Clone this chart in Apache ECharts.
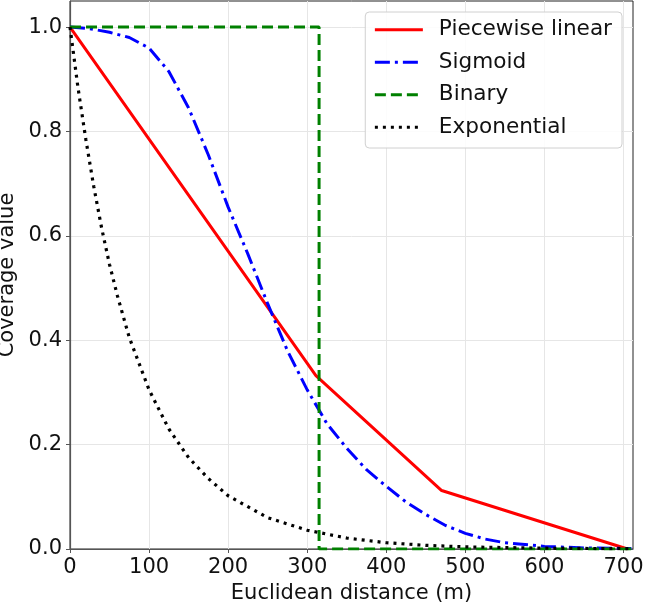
<!DOCTYPE html>
<html>
<head>
<meta charset="utf-8">
<script src="https://cdn.jsdelivr.net/npm/echarts@6/dist/echarts.min.js"></script>
<style>html,body{margin:0;padding:0;background:#fff}#c{width:646px;height:604px}</style>
</head>
<body>
<div id="c"></div>
<script>
// Data
var linearX = [0, 311, 470, 705];
var linearY = [1.0, 0.332, 0.112, 0.0];

var sigmoidX = [0, 25, 50, 75, 100, 125, 150, 175, 200, 225, 250, 275, 300, 325, 350, 375, 400, 425, 450, 475, 500, 525, 550, 600, 650, 710];
var sigmoidY = [1.0, 0.997, 0.99, 0.98, 0.96, 0.915, 0.845, 0.755, 0.655, 0.565, 0.47, 0.38, 0.305, 0.24, 0.193, 0.152, 0.12, 0.09, 0.066, 0.045, 0.03, 0.019, 0.012, 0.005, 0.002, 0.001];

var binaryX = [0, 315, 315, 710];
var binaryY = [1.0, 1.0, 0.0, 0.0];

var expX = [0, 10, 20, 30, 40, 50, 60, 75, 100, 125, 150, 175, 200, 250, 300, 350, 400, 450, 500, 600, 710];
var expY = [1.0, 0.885, 0.785, 0.695, 0.615, 0.545, 0.485, 0.405, 0.305, 0.23, 0.175, 0.135, 0.102, 0.06, 0.036, 0.021, 0.012, 0.007, 0.004, 0.0015, 0.0005];

var xTicks = [0, 100, 200, 300, 400, 500, 600, 700];
var yTicks = [0, 0.2, 0.4, 0.6, 0.8, 1.0];

function pairs(xs, ys) { return xs.map(function (x, i) { return [x, ys[i]]; }); }

var FONT = 'DejaVu Sans';
var FS = 21;
var chart = echarts.init(document.getElementById('c'), null, { renderer: 'canvas' });
chart.setOption({
  animation: false,
  backgroundColor: '#ffffff',
  textStyle: { fontFamily: FONT },
  grid: { left: 70, right: 13, top: 1, bottom: 55, containLabel: false, outerBoundsMode: 'none',
    show: true, borderColor: '#222', borderWidth: 1, backgroundColor: 'transparent' },
  legend: {
    right: 24, top: 12, orient: 'vertical',
    itemWidth: 48, itemHeight: 14, itemGap: 9,
    padding: [6, 10, 9, 8],
    backgroundColor: 'rgba(255,255,255,0.85)',
    borderColor: '#d0d0d0', borderWidth: 1, borderRadius: 4,
    itemStyle: { opacity: 0 },
    lineStyle: { width: 3.2 },
    textStyle: { fontFamily: FONT, fontSize: 21.6, lineHeight: 23.5, color: '#111', padding: [0, 0, 0, 11] },
    data: ['Piecewise linear', 'Sigmoid', 'Binary', 'Exponential']
  },
  xAxis: {
    type: 'value', min: 0, max: 712,
    name: 'Euclidean distance (m)', nameLocation: 'middle', nameGap: 32,
    nameTextStyle: { fontFamily: FONT, fontSize: FS, color: '#111' },
    axisLine: { show: true, lineStyle: { color: '#555', width: 1.2 } },
    axisTick: { show: true, inside: false, length: 4, lineStyle: { color: '#555' }, customValues: xTicks },
    axisLabel: { fontFamily: FONT, fontSize: FS, color: '#111', margin: 8, customValues: xTicks },
    splitLine: { show: true, lineStyle: { color: '#e6e6e6', width: 1 } }
  },
  yAxis: {
    type: 'value', min: 0, max: 1.05,
    name: 'Coverage value', nameLocation: 'middle', nameGap: 52,
    nameTextStyle: { fontFamily: FONT, fontSize: FS, color: '#111' },
    axisLine: { show: true, lineStyle: { color: '#555', width: 1.2 } },
    axisTick: { show: true, inside: false, length: 4, lineStyle: { color: '#555' }, customValues: yTicks },
    axisLabel: { fontFamily: FONT, fontSize: FS, color: '#111', margin: 8, customValues: yTicks,
      formatter: function (v) { return v.toFixed(1); } },
    splitLine: { show: true, lineStyle: { color: '#e6e6e6', width: 1 } }
  },
  series: [
    { name: 'Piecewise linear', type: 'line', symbol: 'none', data: pairs(linearX, linearY),
      lineStyle: { color: '#ff0000', width: 3 }, itemStyle: { color: '#ff0000' }, z: 3 },
    { name: 'Sigmoid', type: 'line', symbol: 'none', smooth: false, data: pairs(sigmoidX, sigmoidY),
      lineStyle: { color: '#0000ff', width: 3, type: [15, 5, 3, 5] }, itemStyle: { color: '#0000ff' }, z: 4 },
    { name: 'Binary', type: 'line', symbol: 'none', data: pairs(binaryX, binaryY),
      lineStyle: { color: '#008000', width: 3, type: [11, 5] }, itemStyle: { color: '#008000' }, z: 5 },
    { name: 'Exponential', type: 'line', symbol: 'none', data: pairs(expX, expY),
      lineStyle: { color: '#000000', width: 3.2, type: [3, 5] }, itemStyle: { color: '#000000' }, z: 6 }
  ]
});
</script>
</body>
</html>
